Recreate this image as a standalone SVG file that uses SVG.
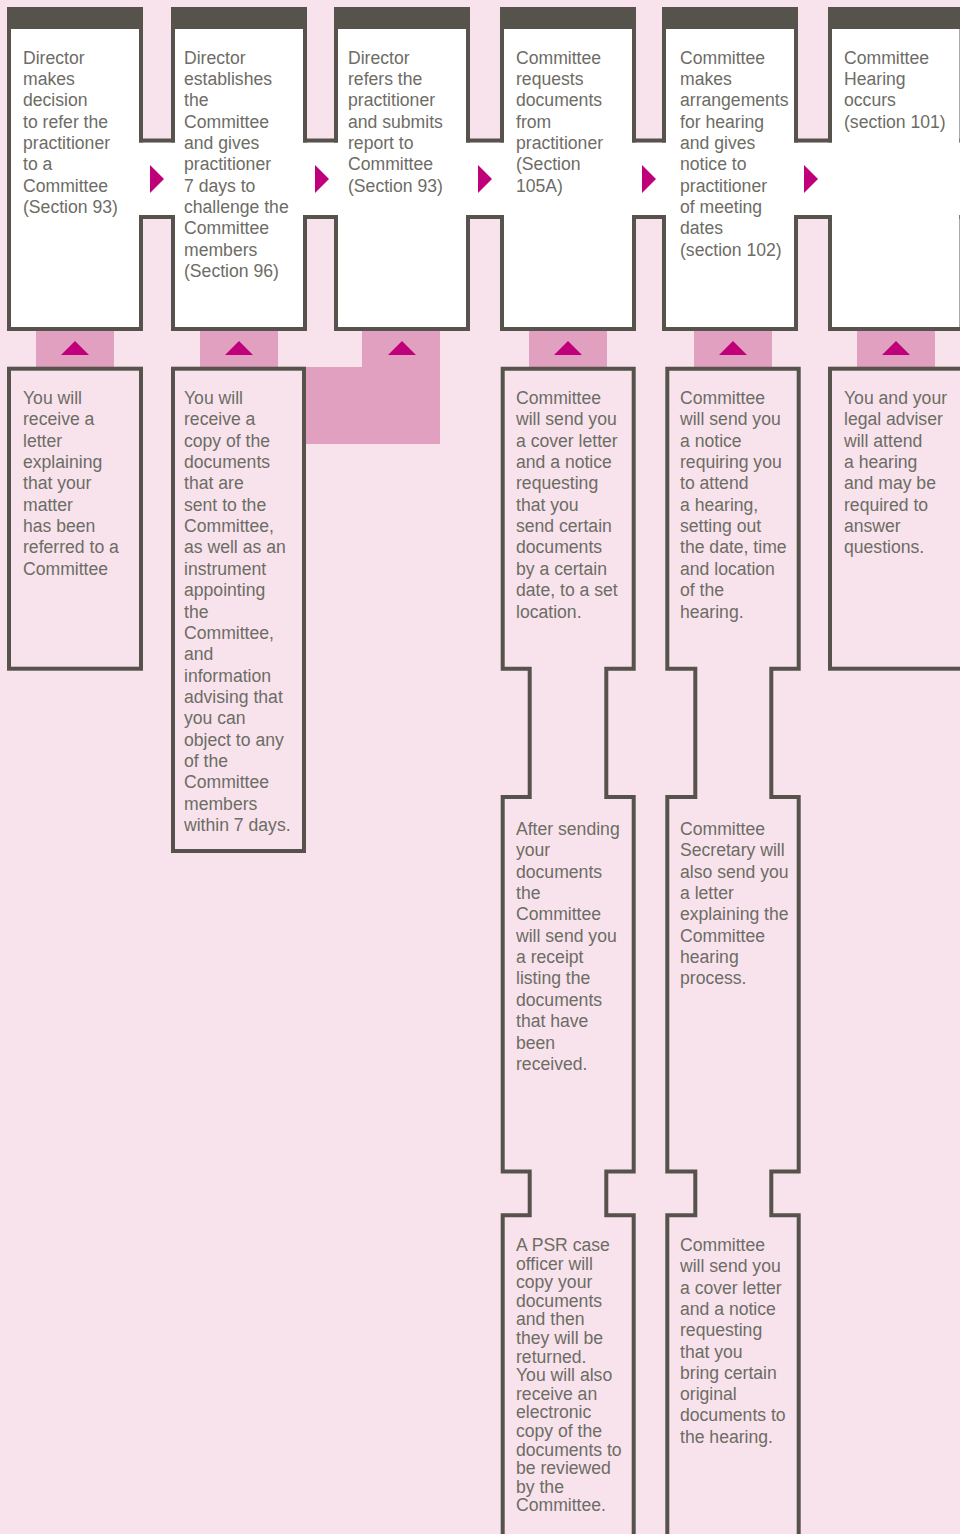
<svg xmlns="http://www.w3.org/2000/svg" width="960" height="1534" viewBox="0 0 960 1534">
<style>
.bg{fill:#f8e3ec}
.top{fill:#ffffff;stroke:#55534b;stroke-width:4}
.hdr{fill:#55534b}
.band{fill:#ffffff}
.bl{stroke:#55534b;stroke-width:4;fill:none;stroke-linecap:square}
.low{fill:#f8e3ec;stroke:#55534b;stroke-width:4}
.conn{fill:#e2a0c0}
.tri{fill:#c0007a}
.t{font-family:"Liberation Sans",Arial,sans-serif;font-size:17.6px;fill:#6d6c65}
</style>
<rect class="bg" x="0" y="0" width="960" height="1534"/>

<g id="connectors">
  <rect class="conn" x="36" y="331" width="78" height="37"/>
  <rect class="conn" x="200" y="331" width="78" height="37"/>
  <polygon class="conn" points="362,331 440,331 440,444 304,444 304,367 362,367"/>
  <rect class="conn" x="529" y="331" width="78" height="37"/>
  <rect class="conn" x="694" y="331" width="78" height="37"/>
  <rect class="conn" x="857" y="331" width="78" height="37"/>
</g>

<g id="top1">
  <rect class="top" x="9" y="9" width="132" height="320"/>
  <rect class="hdr" x="7" y="7" width="136" height="22"/>
  <text class="t" x="23" y="63.5"><tspan x="23">Director</tspan><tspan x="23" dy="21.35">makes</tspan><tspan x="23" dy="21.35">decision</tspan><tspan x="23" dy="21.35">to refer the</tspan><tspan x="23" dy="21.35">practitioner</tspan><tspan x="23" dy="21.35">to a</tspan><tspan x="23" dy="21.35">Committee</tspan><tspan x="23" dy="21.35">(Section 93)</tspan></text>
</g>
<g id="top2">
  <rect class="top" x="173" y="9" width="132" height="320"/>
  <rect class="hdr" x="171" y="7" width="136" height="22"/>
  <text class="t" x="184" y="63.5"><tspan x="184">Director</tspan><tspan x="184" dy="21.35">establishes</tspan><tspan x="184" dy="21.35">the</tspan><tspan x="184" dy="21.35">Committee</tspan><tspan x="184" dy="21.35">and gives</tspan><tspan x="184" dy="21.35">practitioner</tspan><tspan x="184" dy="21.35">7 days to</tspan><tspan x="184" dy="21.35">challenge the</tspan><tspan x="184" dy="21.35">Committee</tspan><tspan x="184" dy="21.35">members</tspan><tspan x="184" dy="21.35">(Section 96)</tspan></text>
</g>
<g id="top3">
  <rect class="top" x="336" y="9" width="132" height="320"/>
  <rect class="hdr" x="334" y="7" width="136" height="22"/>
  <text class="t" x="348" y="63.5"><tspan x="348">Director</tspan><tspan x="348" dy="21.35">refers the</tspan><tspan x="348" dy="21.35">practitioner</tspan><tspan x="348" dy="21.35">and submits</tspan><tspan x="348" dy="21.35">report to</tspan><tspan x="348" dy="21.35">Committee</tspan><tspan x="348" dy="21.35">(Section 93)</tspan></text>
</g>
<g id="top4">
  <rect class="top" x="502" y="9" width="132" height="320"/>
  <rect class="hdr" x="500" y="7" width="136" height="22"/>
  <text class="t" x="516" y="63.5"><tspan x="516">Committee</tspan><tspan x="516" dy="21.35">requests</tspan><tspan x="516" dy="21.35">documents</tspan><tspan x="516" dy="21.35">from</tspan><tspan x="516" dy="21.35">practitioner</tspan><tspan x="516" dy="21.35">(Section</tspan><tspan x="516" dy="21.35">105A)</tspan></text>
</g>
<g id="top5">
  <rect class="top" x="664" y="9" width="132" height="320"/>
  <rect class="hdr" x="662" y="7" width="136" height="22"/>
  <text class="t" x="680" y="63.5"><tspan x="680">Committee</tspan><tspan x="680" dy="21.35">makes</tspan><tspan x="680" dy="21.35">arrangements</tspan><tspan x="680" dy="21.35">for hearing</tspan><tspan x="680" dy="21.35">and gives</tspan><tspan x="680" dy="21.35">notice to</tspan><tspan x="680" dy="21.35">practitioner</tspan><tspan x="680" dy="21.35">of meeting</tspan><tspan x="680" dy="21.35">dates</tspan><tspan x="680" dy="21.35">(section 102)</tspan></text>
</g>
<g id="top6">
  <rect class="top" x="830" y="9" width="131.5" height="320"/>
  <rect class="hdr" x="828" y="7" width="140" height="22"/>
  <text class="t" x="844" y="63.5"><tspan x="844">Committee</tspan><tspan x="844" dy="21.35">Hearing</tspan><tspan x="844" dy="21.35">occurs</tspan><tspan x="844" dy="21.35">(section 101)</tspan></text>
</g>

<g id="bands">
  <rect class="band" x="139" y="142.5" width="36" height="72.5"/>
  <rect class="band" x="303" y="142.5" width="35" height="72.5"/>
  <rect class="band" x="466" y="142.5" width="38" height="72.5"/>
  <rect class="band" x="632" y="142.5" width="34" height="72.5"/>
  <rect class="band" x="794" y="142.5" width="38" height="72.5"/>
  <rect class="band" x="958" y="142.5" width="10" height="72.5"/>
  <path class="bl" d="M141,140.5 H173 M141,217 H173 M305,140.5 H336 M305,217 H336 M468,140.5 H502 M468,217 H502 M634,140.5 H664 M634,217 H664 M796,140.5 H830 M796,217 H830 M961.5,140.5 H970 M961.5,217 H970"/>
  <polygon class="tri" points="150,165 164,179 150,193"/>
  <polygon class="tri" points="315,165 329,179 315,193"/>
  <polygon class="tri" points="478,165 492,179 478,193"/>
  <polygon class="tri" points="642,165 656,179 642,193"/>
  <polygon class="tri" points="804,165 818,179 804,193"/>
  <polygon class="tri" points="61,355 75,341 89,355"/>
  <polygon class="tri" points="225,355 239,341 253,355"/>
  <polygon class="tri" points="388,355 402,341 416,355"/>
  <polygon class="tri" points="554,355 568,341 582,355"/>
  <polygon class="tri" points="719,355 733,341 747,355"/>
  <polygon class="tri" points="882,355 896,341 910,355"/>
</g>

<g id="low1">
  <rect class="low" x="9" y="368.7" width="132" height="300"/>
  <text class="t" x="23" y="404"><tspan x="23">You will</tspan><tspan x="23" dy="21.35">receive a</tspan><tspan x="23" dy="21.35">letter</tspan><tspan x="23" dy="21.35">explaining</tspan><tspan x="23" dy="21.35">that your</tspan><tspan x="23" dy="21.35">matter</tspan><tspan x="23" dy="21.35">has been</tspan><tspan x="23" dy="21.35">referred to a</tspan><tspan x="23" dy="21.35">Committee</tspan></text>
</g>
<g id="low2">
  <rect class="low" x="173" y="368.7" width="131" height="482.3"/>
  <text class="t" x="184" y="404"><tspan x="184">You will</tspan><tspan x="184" dy="21.35">receive a</tspan><tspan x="184" dy="21.35">copy of the</tspan><tspan x="184" dy="21.35">documents</tspan><tspan x="184" dy="21.35">that are</tspan><tspan x="184" dy="21.35">sent to the</tspan><tspan x="184" dy="21.35">Committee,</tspan><tspan x="184" dy="21.35">as well as an</tspan><tspan x="184" dy="21.35">instrument</tspan><tspan x="184" dy="21.35">appointing</tspan><tspan x="184" dy="21.35">the</tspan><tspan x="184" dy="21.35">Committee,</tspan><tspan x="184" dy="21.35">and</tspan><tspan x="184" dy="21.35">information</tspan><tspan x="184" dy="21.35">advising that</tspan><tspan x="184" dy="21.35">you can</tspan><tspan x="184" dy="21.35">object to any</tspan><tspan x="184" dy="21.35">of the</tspan><tspan x="184" dy="21.35">Committee</tspan><tspan x="184" dy="21.35">members</tspan><tspan x="184" dy="21.35">within 7 days.</tspan></text>
</g>
<g id="low4">
  <path class="low" d="M502.7,1540 V1215.3 H529.7 V1171.5 H502.7 V797 H529.7 V668.7 H502.7 V368.7 H633.7 V668.7 H606.3 V797 H633.7 V1171.5 H606.3 V1215.3 H633.7 V1540"/>
  <text class="t" x="516" y="404"><tspan x="516">Committee</tspan><tspan x="516" dy="21.35">will send you</tspan><tspan x="516" dy="21.35">a cover letter</tspan><tspan x="516" dy="21.35">and a notice</tspan><tspan x="516" dy="21.35">requesting</tspan><tspan x="516" dy="21.35">that you</tspan><tspan x="516" dy="21.35">send certain</tspan><tspan x="516" dy="21.35">documents</tspan><tspan x="516" dy="21.35">by a certain</tspan><tspan x="516" dy="21.35">date, to a set</tspan><tspan x="516" dy="21.35">location.</tspan></text>
  <text class="t" x="516" y="835"><tspan x="516">After sending</tspan><tspan x="516" dy="21.35">your</tspan><tspan x="516" dy="21.35">documents</tspan><tspan x="516" dy="21.35">the</tspan><tspan x="516" dy="21.35">Committee</tspan><tspan x="516" dy="21.35">will send you</tspan><tspan x="516" dy="21.35">a receipt</tspan><tspan x="516" dy="21.35">listing the</tspan><tspan x="516" dy="21.35">documents</tspan><tspan x="516" dy="21.35">that have</tspan><tspan x="516" dy="21.35">been</tspan><tspan x="516" dy="21.35">received.</tspan></text>
  <text class="t" x="516" y="1251"><tspan x="516">A PSR case</tspan><tspan x="516" dy="18.6">officer will</tspan><tspan x="516" dy="18.6">copy your</tspan><tspan x="516" dy="18.6">documents</tspan><tspan x="516" dy="18.6">and then</tspan><tspan x="516" dy="18.6">they will be</tspan><tspan x="516" dy="18.6">returned.</tspan><tspan x="516" dy="18.6">You will also</tspan><tspan x="516" dy="18.6">receive an</tspan><tspan x="516" dy="18.6">electronic</tspan><tspan x="516" dy="18.6">copy of the</tspan><tspan x="516" dy="18.6">documents to</tspan><tspan x="516" dy="18.6">be reviewed</tspan><tspan x="516" dy="18.6">by the</tspan><tspan x="516" dy="18.6">Committee.</tspan></text>
</g>
<g id="low5">
  <path class="low" d="M667.3,1540 V1215.3 H695.3 V1171.5 H667.3 V797 H695.3 V668.7 H667.3 V368.7 H798.7 V668.7 H771.3 V797 H798.7 V1171.5 H771.3 V1215.3 H798.7 V1540"/>
  <text class="t" x="680" y="404"><tspan x="680">Committee</tspan><tspan x="680" dy="21.35">will send you</tspan><tspan x="680" dy="21.35">a notice</tspan><tspan x="680" dy="21.35">requiring you</tspan><tspan x="680" dy="21.35">to attend</tspan><tspan x="680" dy="21.35">a hearing,</tspan><tspan x="680" dy="21.35">setting out</tspan><tspan x="680" dy="21.35">the date, time</tspan><tspan x="680" dy="21.35">and location</tspan><tspan x="680" dy="21.35">of the</tspan><tspan x="680" dy="21.35">hearing.</tspan></text>
  <text class="t" x="680" y="835"><tspan x="680">Committee</tspan><tspan x="680" dy="21.35">Secretary will</tspan><tspan x="680" dy="21.35">also send you</tspan><tspan x="680" dy="21.35">a letter</tspan><tspan x="680" dy="21.35">explaining the</tspan><tspan x="680" dy="21.35">Committee</tspan><tspan x="680" dy="21.35">hearing</tspan><tspan x="680" dy="21.35">process.</tspan></text>
  <text class="t" x="680" y="1251"><tspan x="680">Committee</tspan><tspan x="680" dy="21.3">will send you</tspan><tspan x="680" dy="21.3">a cover letter</tspan><tspan x="680" dy="21.3">and a notice</tspan><tspan x="680" dy="21.3">requesting</tspan><tspan x="680" dy="21.3">that you</tspan><tspan x="680" dy="21.3">bring certain</tspan><tspan x="680" dy="21.3">original</tspan><tspan x="680" dy="21.3">documents to</tspan><tspan x="680" dy="21.3">the hearing.</tspan></text>
</g>
<g id="low6">
  <rect class="low" x="830" y="368.7" width="134" height="300"/>
  <text class="t" x="844" y="404"><tspan x="844">You and your</tspan><tspan x="844" dy="21.35">legal adviser</tspan><tspan x="844" dy="21.35">will attend</tspan><tspan x="844" dy="21.35">a hearing</tspan><tspan x="844" dy="21.35">and may be</tspan><tspan x="844" dy="21.35">required to</tspan><tspan x="844" dy="21.35">answer</tspan><tspan x="844" dy="21.35">questions.</tspan></text>
</g>
</svg>
